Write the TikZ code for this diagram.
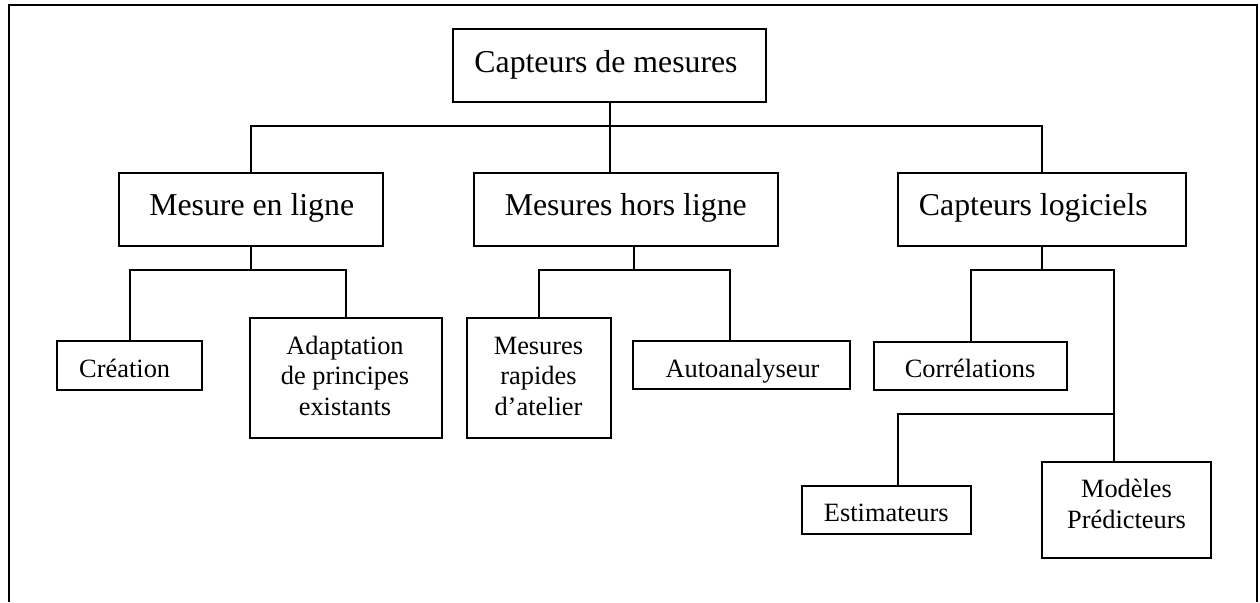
\documentclass[tikz,border=0pt]{standalone}
\usepackage{fontspec}
\setmainfont{Liberation Serif}
\begin{document}
\begin{tikzpicture}[x=1pt,y=-1pt,
  box/.style={draw, line width=2pt, inner sep=0pt, outer sep=0pt},
  conn/.style={line width=2pt},
  frame/.style={line width=2.4pt},
  big/.style={inner sep=0pt, anchor=base, font=\fontsize{31.8}{36}\selectfont},
  small/.style={inner sep=0pt, anchor=base, font=\fontsize{26.4}{30}\selectfont}]
\useasboundingbox (0,0) rectangle (1260,602);
% frame (no bottom side)
\draw[frame] (9,602) -- (9,5) -- (1257,5) -- (1257,602);
% boxes
\node[box, minimum width=313pt, minimum height=73pt] (root) at (609.5,65.5) {};
\node[box, minimum width=264pt, minimum height=73pt] (enl) at (251,209.5) {};
\node[box, minimum width=304pt, minimum height=73pt] (mhl) at (626,209.5) {};
\node[box, minimum width=288pt, minimum height=73pt] (cl) at (1042,209.5) {};
\node[box, minimum width=145pt, minimum height=49pt] (cre) at (129.5,365.5) {};
\node[box, minimum width=192pt, minimum height=120pt] (ada) at (346,378) {};
\node[box, minimum width=144pt, minimum height=120pt] (mra) at (539,378) {};
\node[box, minimum width=217pt, minimum height=48pt] (auto) at (741.5,365) {};
\node[box, minimum width=193pt, minimum height=48pt] (cor) at (970.5,365.5) {};
\node[box, minimum width=169pt, minimum height=48pt] (est) at (886.5,510) {};
\node[box, minimum width=169pt, minimum height=96pt] (mod) at (1126.5,510) {};
% texts
\node[big] (t-root) at (606,73) {Capteurs de mesures};
\node[big] (t-enl) at (251.7,215.5) {Mesure en ligne};
\node[big] (t-mhl) at (625.8,215) {Mesures hors ligne};
\node[big] (t-cl) at (1033.3,215) {Capteurs logiciels};
\node[small] (t-cre) at (124.7,377) {Création};
\node[small] (t-ada1) at (345,354) {Adaptation};
\node[small] (t-ada2) at (345,384.5) {de principes};
\node[small] (t-ada3) at (345,415) {existants};
\node[small] (t-mra1) at (538.5,354) {Mesures};
\node[small] (t-mra2) at (538.5,384.5) {rapides};
\node[small] (t-mra3) at (538.5,415) {d’atelier};
\node[small] (t-auto) at (742.5,377) {Autoanalyseur};
\node[small] (t-cor) at (970,377) {Corrélations};
\node[small] (t-est) at (886.3,521) {Estimateurs};
\node[small] (t-mod1) at (1126.5,497) {Modèles};
\node[small] (t-mod2) at (1126.5,528) {Prédicteurs};
% bus coordinates
\coordinate (bus1) at (0,126);
\coordinate (bus2) at (0,270);
\coordinate (bus3) at (0,414);
\coordinate (mhlout) at ([xshift=8pt]mhl.south);
\coordinate (autoin) at ([xshift=-11.5pt]auto.north);
\coordinate (modin) at ([xshift=-12.5pt]mod.north);
\coordinate (estin) at ([xshift=11.5pt]est.north);
% connectors level 1
\draw[conn] (enl.north) |- (bus1 -| root.south) -| (cl.north);
\draw[conn] (root.south) -- (root.south |- mhl.north);
% level 2
\draw[conn] (enl.south) -- (enl.south |- bus2);
\draw[conn] (cre.north) |- (bus2 -| ada.north) -- (ada.north);
\draw[conn] (mhlout) -- (mhlout |- bus2);
\draw[conn] (mra.north) |- (bus2 -| autoin) -- (autoin);
\draw[conn] (cl.south) -- (cl.south |- bus2);
\draw[conn] (cor.north) |- (bus2 -| modin) -- (modin);
\draw[conn] (estin) |- (bus3 -| modin);
\end{tikzpicture}
\end{document}
